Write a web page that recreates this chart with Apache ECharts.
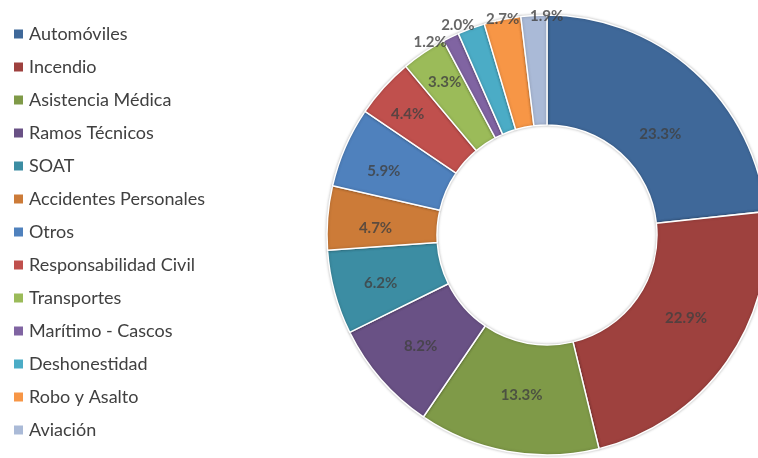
<!DOCTYPE html>
<html>
<head>
<meta charset="utf-8">
<script src="https://cdn.jsdelivr.net/npm/echarts@6/dist/echarts.min.js"></script>
<style>
html,body{margin:0;padding:0;background:#fff;}
#c{width:758px;height:458px;}
</style>
</head>
<body>
<div id="c"></div>
<script>
const categories = ["Automóviles","Incendio","Asistencia Médica","Ramos Técnicos","SOAT","Accidentes Personales","Otros","Responsabilidad Civil","Transportes","Marítimo - Cascos","Deshonestidad","Robo y Asalto","Aviación"];
const values = [23.3,22.9,13.3,8.2,6.2,4.7,5.9,4.4,3.3,1.2,2.0,2.7,1.9];
const colors = ["#3F6899","#9E413E","#7F9A48","#695185","#3C8DA3","#CC7B38","#4F81BD","#C0504D","#9BBB59","#8064A2","#4BACC6","#F79646","#AABAD7"];
const outsideLabelItems = ["Marítimo - Cascos","Deshonestidad","Robo y Asalto","Aviación"];

// label placement tweaks (pixels), mimicking the original's best-fit label layout
const labelNudge = {
  "Automóviles":[3,22], "Incendio":[4,-12], "Asistencia Médica":[4,-2], "Ramos Técnicos":[-2,3],
  "SOAT":[-7,5], "Accidentes Personales":[-7,6], "Otros":[-12,2], "Responsabilidad Civil":[-17,-10],
  "Transportes":[-10,-16], "Marítimo - Cascos":[-19,9], "Deshonestidad":[-12,0],
  "Robo y Asalto":[1,4], "Aviación":[13,5]
};

const font = "Lato, 'Open Sans', sans-serif";
const chart = echarts.init(document.getElementById('c'), null, {renderer:'canvas'});

const CX = 547, CY = 235, R0 = 110, R1 = 220;
const total = values.reduce((a,b)=>a+b,0);
let acc = 0;
const mids = values.map(v=>{ const m = acc + v/2; acc += v; return m; });

const pieData = categories.map((c,i)=>({name:c, value:values[i], itemStyle:{color:colors[i]}}));

// labels placed by the polar axes at each slice's mid angle
const labelData = categories.map((c,i)=>{
  const outside = outsideLabelItems.indexOf(c) >= 0;
  return {
    name:c,
    value:[outside ? 224 : (R0+R1)/2, mids[i]],
    pct:values[i],
    label:{offset:labelNudge[c]}
  };
});

chart.setOption({
  animation:false,
  color:colors,
  legend:{
    orient:'vertical', left:12, top:25, padding:0,
    icon:'rect', itemWidth:11, itemHeight:11, itemGap:15,
    data:categories,
    textStyle:{fontFamily:font, fontSize:18, color:'#404040', lineHeight:18}
  },
  polar:{center:[CX,CY], radius:245},
  angleAxis:{type:'value', min:0, max:total, startAngle:90, clockwise:true,
    axisLine:{show:false}, axisTick:{show:false}, axisLabel:{show:false}, splitLine:{show:false}},
  radiusAxis:{type:'value', min:0, max:245,
    axisLine:{show:false}, axisTick:{show:false}, axisLabel:{show:false}, splitLine:{show:false}},
  series:[
    {
      type:'pie', center:[CX,CY], radius:[R0,R1],
      startAngle:90, clockwise:true,
      itemStyle:{borderColor:'#fff', borderWidth:1.5, shadowBlur:3, shadowColor:'rgba(0,0,0,0.25)'},
      label:{show:false},
      labelLine:{show:false},
      emphasis:{disabled:true},
      data:pieData
    },
    {
      type:'scatter', coordinateSystem:'polar', symbolSize:1,
      itemStyle:{color:'rgba(0,0,0,0)'}, silent:true,
      label:{show:true, position:'inside',
        formatter:(p)=>p.data.pct.toFixed(1)+'%',
        fontFamily:font, fontWeight:'bold', fontSize:15, color:'#404040'},
      emphasis:{disabled:true},
      data:labelData
    }
  ]
});
</script>
</body>
</html>
